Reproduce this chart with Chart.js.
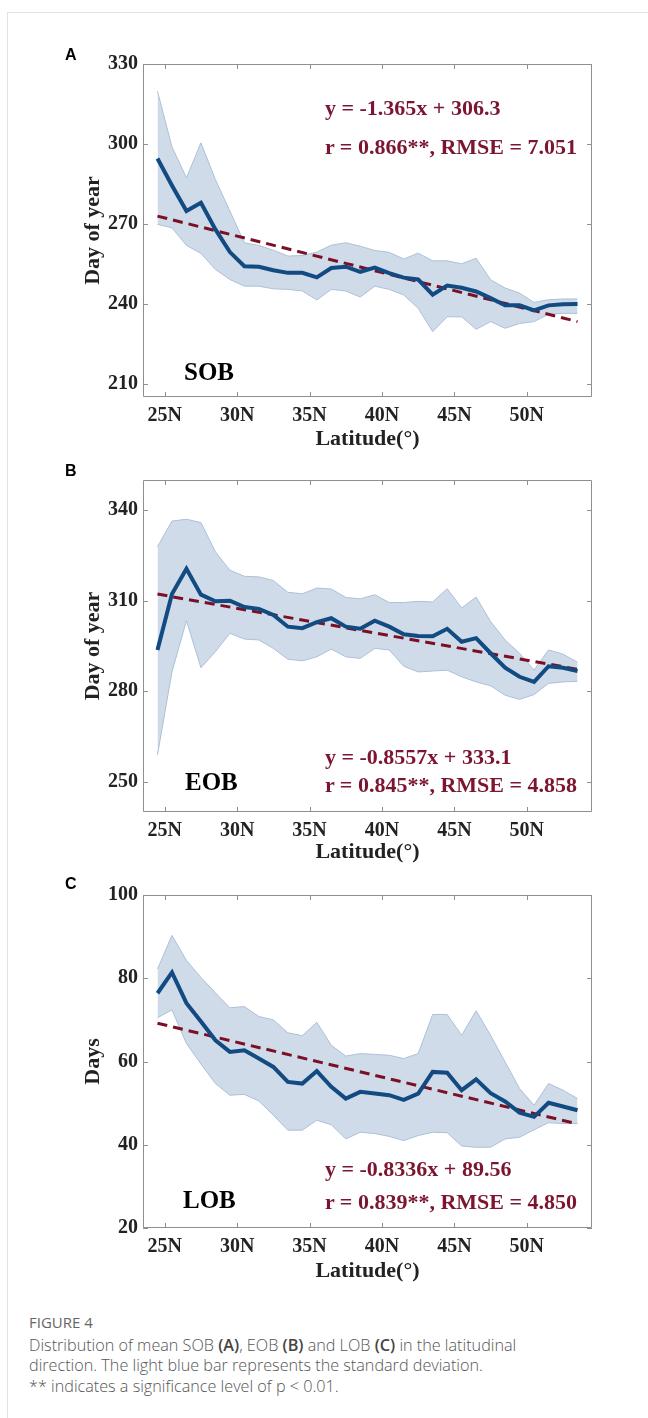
<!DOCTYPE html>
<html lang="en">
<head>
    <meta charset="UTF-8">
    <title>Figure 4 - SOB, EOB and LOB by latitude</title>
    <script src="https://cdn.jsdelivr.net/npm/chart.js"></script>
    <style>
        body {
            margin: 0;
            width: 648px;
            height: 1418px;
            background: #fff;
            position: relative;
            overflow: hidden;
        }
        .frame-top {
            position: absolute; left: 8px; top: 12px; width: 640px; height: 1px; background: #e2e2e2;
        }
        .frame-left {
            position: absolute; left: 7px; top: 12px; width: 1px; height: 1406px; background: #e2e2e2;
        }
        .panel {
            position: absolute;
            left: 0;
            width: 648px;
        }
        .letter {
            position: absolute;
            font-family: 'Liberation Sans', Arial, sans-serif;
            font-weight: bold;
            font-size: 16px;
            line-height: 16px;
            color: #000;
        }
        .note {
            position: absolute;
            font-family: 'Liberation Serif', 'Times New Roman', serif;
            font-weight: bold;
            font-size: 22px;
            line-height: 22px;
            color: #7b1530;
            white-space: nowrap;
        }
        .tag {
            position: absolute;
            font-family: 'Liberation Serif', 'Times New Roman', serif;
            font-weight: bold;
            font-size: 25px;
            line-height: 25px;
            color: #000;
        }
        .caption {
            position: absolute;
            left: 29px;
            top: 1312px;
            width: 610px;
            font-family: 'Open Sans', sans-serif;
            font-weight: 300;
            font-size: 16.2px;
            line-height: 20.5px;
            color: #555;
            white-space: nowrap;
        }
        .caption .fig {
            font-size: 15px;
            font-weight: 400;
            color: #666;
            margin-bottom: 2px;
        }
        .caption b { font-weight: 600; color: #444; }
    </style>
</head>
<body>
    <div class="frame-top"></div>
    <div class="frame-left"></div>

    <canvas id="chartA" class="panel" style="top:40px" width="648" height="420"></canvas>
    <canvas id="chartB" class="panel" style="top:456px" width="648" height="420"></canvas>
    <canvas id="chartC" class="panel" style="top:870px" width="648" height="430"></canvas>

    <div class="letter" style="left:65px; top:47px;">A</div>
    <div class="letter" style="left:65px; top:463px;">B</div>
    <div class="letter" style="left:65px; top:876px;">C</div>

    <div class="note" style="left:325px; top:97px;">y = -1.365x + 306.3</div>
    <div class="note" style="left:325px; top:136px;">r = 0.866**, RMSE = 7.051</div>
    <div class="tag" style="left:184px; top:359px;">SOB</div>

    <div class="note" style="left:325px; top:746px;">y = -0.8557x + 333.1</div>
    <div class="note" style="left:325px; top:774px;">r = 0.845**, RMSE = 4.858</div>
    <div class="tag" style="left:185px; top:769px;">EOB</div>

    <div class="note" style="left:325px; top:1158px;">y = -0.8336x + 89.56</div>
    <div class="note" style="left:325px; top:1191px;">r = 0.839**, RMSE = 4.850</div>
    <div class="tag" style="left:183px; top:1187px;">LOB</div>

    <div class="caption">
        <div class="fig">FIGURE 4</div>
        Distribution of mean SOB <b>(A)</b>, EOB <b>(B)</b> and LOB <b>(C)</b> in the latitudinal<br>
        direction. The light blue bar represents the standard deviation.<br>
        ** indicates a significance level of p &lt; 0.01.
    </div>

    <script>
        // latitude bins (degrees N)
        const lat = [24.5, 25.5, 26.5, 27.5, 28.5, 29.5, 30.5, 31.5, 32.5, 33.5, 34.5, 35.5, 36.5, 37.5, 38.5,
                     39.5, 40.5, 41.5, 42.5, 43.5, 44.5, 45.5, 46.5, 47.5, 48.5, 49.5, 50.5, 51.5, 52.5, 53.5];

        const xTicks = [25, 30, 35, 40, 45, 50];
        const xTickLabels = ['25N', '30N', '35N', '40N', '45N', '50N'];

        // A - SOB
        const sobMean = [294.5, 284.4, 274.8, 277.9, 267.9, 259.4, 254.1, 253.9, 252.6, 251.6, 251.6, 249.9, 253.4, 253.9, 252.0,
                         253.6, 251.5, 249.8, 249.1, 243.4, 246.8, 246.0, 244.6, 242.1, 239.4, 239.4, 237.5, 239.4, 239.8, 239.9];
        const sobUpper = [319.8, 298.9, 287.3, 300.4, 286.6, 274.8, 262.9, 261.9, 260.1, 257.9, 258.1, 259.4, 262.0, 262.9, 261.6,
                          260.0, 259.3, 256.8, 259.0, 256.1, 256.1, 255.0, 257.1, 249.0, 245.9, 244.0, 240.5, 241.5, 241.8, 241.8];
        const sobLower = [269.8, 268.5, 261.9, 258.9, 252.9, 249.1, 246.6, 246.6, 245.6, 245.4, 244.8, 241.4, 245.4, 244.8, 242.5,
                          246.6, 245.4, 243.3, 238.3, 229.5, 235.1, 235.1, 230.4, 233.3, 230.8, 232.6, 233.3, 236.1, 236.4, 236.4];
        const sobFit = [272.9, 233.3];
        const sobTicks = [210, 240, 270, 300, 330];

        // B - EOB
        const eobMean = [293.7, 312.2, 320.6, 312.0, 309.8, 310.0, 307.9, 307.3, 305.3, 301.4, 300.9, 302.9, 304.2, 301.4, 300.7,
                         303.4, 301.4, 298.9, 298.3, 298.2, 300.7, 296.4, 297.6, 292.6, 287.8, 284.8, 283.1, 288.3, 287.8, 286.7];
        const eobUpper = [327.9, 336.4, 337.0, 335.9, 326.2, 320.1, 318.1, 317.9, 316.7, 312.8, 312.3, 314.2, 313.9, 311.1, 310.6,
                          312.0, 309.4, 309.4, 309.8, 309.6, 314.0, 307.6, 311.2, 303.1, 297.0, 292.6, 287.0, 293.7, 292.3, 289.6];
        const eobLower = [258.9, 286.4, 303.4, 287.8, 293.1, 299.2, 297.3, 297.0, 294.2, 290.6, 290.1, 291.4, 294.0, 291.4, 290.9,
                          294.2, 293.7, 288.3, 286.4, 286.7, 287.0, 284.8, 283.1, 281.8, 278.7, 277.3, 278.9, 282.6, 283.1, 283.3];
        const eobFit = [312.2, 287.3];
        const eobTicks = [250, 280, 310, 340];

        // C - LOB
        const lobMean = [76.4, 81.4, 74.0, 69.6, 65.1, 62.3, 62.7, 60.7, 58.7, 55.1, 54.7, 57.7, 53.9, 51.1, 52.7,
                         52.3, 51.9, 50.8, 52.3, 57.5, 57.3, 53.1, 55.7, 52.4, 50.4, 47.7, 46.7, 50.1, 49.2, 48.3];
        const lobUpper = [82.2, 90.3, 84.3, 80.2, 76.5, 72.9, 73.2, 70.8, 70.0, 66.9, 66.2, 69.4, 63.9, 61.3, 61.9,
                          61.7, 61.5, 60.7, 61.9, 71.3, 71.3, 66.3, 72.2, 66.3, 59.9, 53.5, 49.5, 54.7, 53.1, 51.1];
        const lobLower = [70.5, 72.4, 64.3, 59.4, 54.7, 51.9, 52.1, 50.5, 47.1, 43.5, 43.5, 45.9, 44.8, 41.4, 43.0,
                          42.7, 42.0, 41.0, 42.2, 43.0, 42.9, 39.7, 39.4, 39.4, 41.4, 41.8, 43.6, 45.3, 45.1, 45.1];
        const lobFit = [69.2, 45.0];
        const lobTicks = [20, 40, 60, 80, 100];

        const fitLat = [24.5, 53.5];

        const serif = "'Liberation Serif', 'Times New Roman', serif";

        // box with inward ticks, matlab style
        const boxPlugin = {
            id: 'box',
            afterDraw(chart) {
                const {ctx, chartArea: a, scales} = chart;
                const len = 5;
                ctx.save();
                ctx.strokeStyle = '#8f8f8f';
                ctx.lineWidth = 1;
                ctx.beginPath();
                ctx.rect(a.left + 0.5, a.top + 0.5, a.right - a.left - 1, a.bottom - a.top - 1);
                scales.x.ticks.forEach(t => {
                    const px = Math.round(scales.x.getPixelForValue(t.value)) + 0.5;
                    ctx.moveTo(px, a.bottom); ctx.lineTo(px, a.bottom - len);
                    ctx.moveTo(px, a.top); ctx.lineTo(px, a.top + len);
                });
                scales.y.ticks.forEach(t => {
                    const py = Math.round(scales.y.getPixelForValue(t.value)) + 0.5;
                    ctx.moveTo(a.left, py); ctx.lineTo(a.left + len, py);
                    ctx.moveTo(a.right, py); ctx.lineTo(a.right - len, py);
                });
                ctx.stroke();
                ctx.restore();
            }
        };

        function pts(xs, ys) {
            return xs.map((x, i) => ({x: x, y: ys[i]}));
        }

        function makeChart(id, opts) {
            const ctx = document.getElementById(id).getContext('2d');
            return new Chart(ctx, {
                type: 'line',
                data: {
                    datasets: [{
                        label: 'upper',
                        data: pts(lat, opts.upper),
                        borderColor: '#adc0d8',
                        borderWidth: 1,
                        backgroundColor: '#cfdbe9',
                        fill: '+1',
                        pointRadius: 0,
                        tension: 0,
                        order: 3
                    }, {
                        label: 'lower',
                        data: pts(lat, opts.lower),
                        borderColor: '#adc0d8',
                        borderWidth: 1,
                        fill: false,
                        pointRadius: 0,
                        tension: 0,
                        order: 2
                    }, {
                        label: 'fit',
                        data: pts(fitLat, opts.fit),
                        borderColor: '#7a0f26',
                        borderWidth: 3,
                        borderDash: [10, 6],
                        fill: false,
                        pointRadius: 0,
                        order: 1
                    }, {
                        label: 'mean',
                        data: pts(lat, opts.mean),
                        borderColor: '#124a82',
                        borderWidth: 4,
                        fill: false,
                        pointRadius: 0,
                        tension: 0,
                        borderJoinStyle: 'miter',
                        order: 0
                    }]
                },
                options: {
                    responsive: false,
                    animation: false,
                    events: [],
                    layout: {
                        padding: {left: 80, right: 56, top: opts.padTop, bottom: 0}
                    },
                    plugins: {
                        legend: {display: false},
                        tooltip: {enabled: false}
                    },
                    scales: {
                        x: {
                            type: 'linear',
                            min: 23.5,
                            max: 54.5,
                            grid: {display: false, drawTicks: false},
                            border: {display: false},
                            afterBuildTicks: s => { s.ticks = xTicks.map(v => ({value: v})); },
                            afterFit: s => { s.height = opts.xHeight; },
                            ticks: {
                                padding: 7,
                                maxRotation: 0,
                                color: '#222',
                                font: {family: serif, size: 20, weight: 'bold', lineHeight: 1.2},
                                callback: v => xTickLabels[xTicks.indexOf(v)]
                            },
                            title: {
                                display: true,
                                text: 'Latitude(°)',
                                color: '#222',
                                padding: {top: 0, bottom: opts.titlePad},
                                font: {family: serif, size: 22, weight: 'bold', lineHeight: 1.2}
                            }
                        },
                        y: {
                            min: opts.yMin,
                            max: opts.yMax,
                            grid: {display: false, drawTicks: false},
                            border: {display: false},
                            afterBuildTicks: s => { s.ticks = opts.yTicks.map(v => ({value: v})); },
                            afterFit: s => { s.width = 63; },
                            ticks: {
                                padding: 5,
                                color: '#222',
                                font: {family: serif, size: 20, weight: 'bold', lineHeight: 1.2}
                            },
                            title: {
                                display: true,
                                text: opts.yTitle,
                                color: '#222',
                                padding: {top: 0, bottom: 0},
                                font: {family: serif, size: 22, weight: 'bold', lineHeight: 1.2}
                            }
                        }
                    }
                },
                plugins: [boxPlugin]
            });
        }

        makeChart('chartA', {
            mean: sobMean, upper: sobUpper, lower: sobLower, fit: sobFit,
            yMin: 205, yMax: 330, yTicks: sobTicks, yTitle: 'Day of year',
            padTop: 24, xHeight: 63, titlePad: 7
        });

        makeChart('chartB', {
            mean: eobMean, upper: eobUpper, lower: eobLower, fit: eobFit,
            yMin: 240, yMax: 350, yTicks: eobTicks, yTitle: 'Day of year',
            padTop: 24, xHeight: 64, titlePad: 10
        });

        makeChart('chartC', {
            mean: lobMean, upper: lobUpper, lower: lobLower, fit: lobFit,
            yMin: 20, yMax: 100, yTicks: lobTicks, yTitle: 'Days',
            padTop: 25, xHeight: 72, titlePad: 15
        });
    </script>
</body>
</html>
